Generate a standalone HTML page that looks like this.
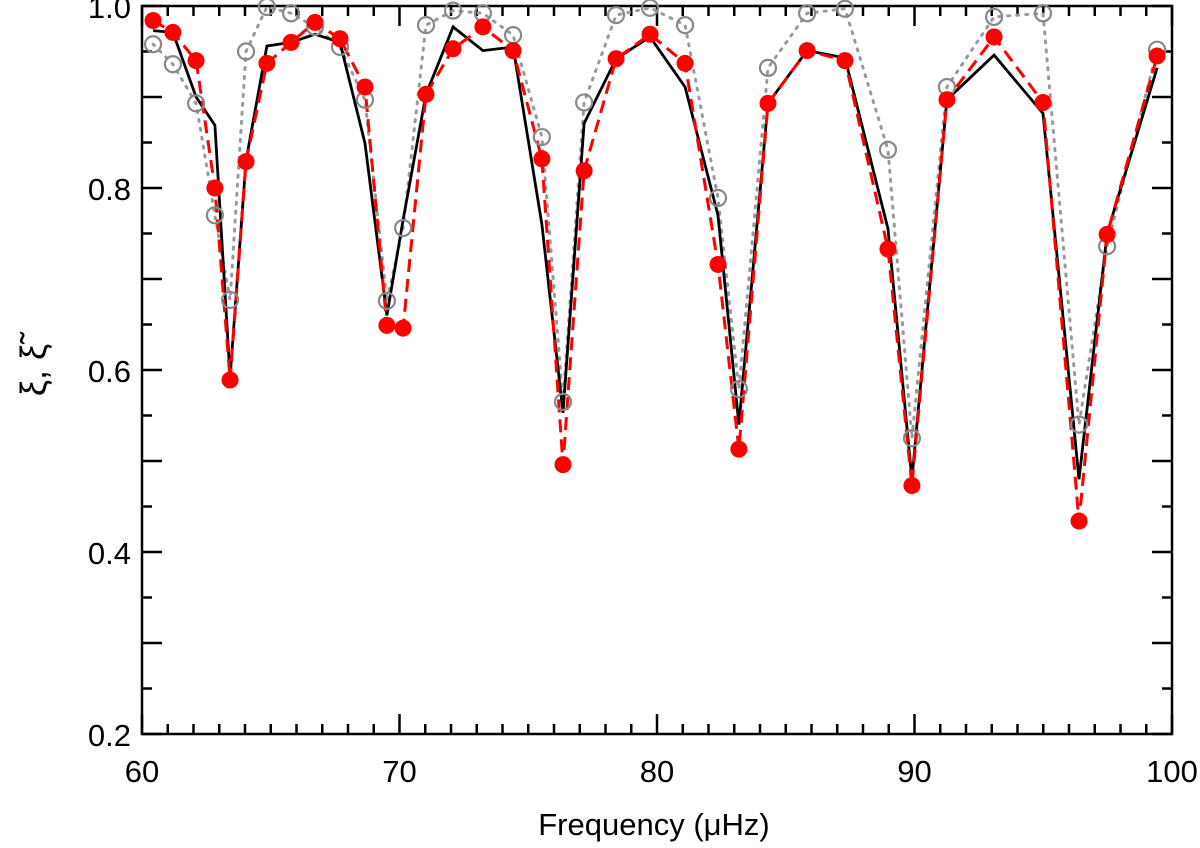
<!DOCTYPE html>
<html><head><meta charset="utf-8"><style>
html,body{margin:0;padding:0;background:#fff;}
svg text{font-family:"Liberation Sans","DejaVu Sans",sans-serif;}
</style></head><body>
<svg id="chart" width="1200" height="843" viewBox="0 0 1200 843" xmlns="http://www.w3.org/2000/svg">
<defs><clipPath id="plotclip"><rect x="142" y="6" width="1030" height="728"/></clipPath></defs>
<g id="axes"></g>
<g id="series" clip-path="url(#plotclip)"></g>
<g id="markers"></g>
<text x="654" y="835" text-anchor="middle" font-size="31" fill="#000">Frequency (μHz)</text>
<text transform="translate(46,370) rotate(-90)" text-anchor="middle" font-size="36" fill="#000">ξ, ξ̃</text>
</svg>
<script>
const freqs = [60.43,61.20,62.10,62.83,63.42,64.04,64.85,65.79,66.72,67.69,68.66,69.51,70.14,71.03,72.08,73.24,74.41,75.53,76.35,77.17,78.41,79.73,81.09,82.37,83.18,84.31,85.83,87.30,88.97,89.90,91.26,93.09,94.99,96.39,97.48,99.42];
const redValues = [0.984,0.971,0.940,0.800,0.589,0.829,0.937,0.960,0.982,0.964,0.911,0.649,0.646,0.903,0.953,0.977,0.951,0.832,0.496,0.819,0.942,0.969,0.937,0.716,0.513,0.893,0.951,0.940,0.733,0.473,0.897,0.966,0.894,0.434,0.749,0.945];
const blackValues = [0.973,0.971,0.900,0.869,0.592,0.830,0.956,0.960,0.969,0.960,0.849,0.660,0.765,0.903,0.977,0.951,0.955,0.760,0.553,0.871,0.942,0.966,0.911,0.770,0.540,0.893,0.951,0.943,0.755,0.480,0.897,0.946,0.882,0.480,0.750,0.932];
const greyValues = [0.958,0.936,0.893,0.770,0.677,0.950,0.999,0.992,0.977,0.955,0.897,0.676,0.756,0.979,0.995,0.992,0.968,0.856,0.565,0.894,0.990,0.998,0.979,0.789,0.579,0.932,0.992,0.997,0.842,0.525,0.911,0.988,0.992,0.540,0.736,0.952];
const xTicks = [60,70,80,90,100];
const yTicks = [0.2,0.4,0.6,0.8,1.0];

const X0=142,X1=1172,Y0=6,Y1=734;
const xs = f => X0 + (f-60)/40*(X1-X0);
const ys = v => Y0 + (1-v)/0.8*(Y1-Y0);
const NS='http://www.w3.org/2000/svg';
function mk(tag, attrs, parent){const e=document.createElementNS(NS,tag);for(const k in attrs)e.setAttribute(k,attrs[k]);parent.appendChild(e);return e;}
const axes=document.getElementById('axes'), series=document.getElementById('series'), markers=document.getElementById('markers');

const frame=mk('rect',{x:X0,y:Y0,width:X1-X0,height:Y1-Y0,fill:'none',stroke:'#000','stroke-width':2.5},axes);


for(let f=60;f<=100;f++){
  const maj=(f%10===0), L=maj?20:10, x=xs(f);
  const t1=mk('line',{x1:x,y1:Y1,x2:x,y2:Y1-L,stroke:'#000','stroke-width':2.5},axes);
  
  
  const t2=mk('line',{x1:x,y1:Y0,x2:x,y2:Y0+L,stroke:'#000','stroke-width':2.5},axes);
  
  
}
xTicks.forEach(f=>{
  const t=mk('text',{x:xs(f),y:Y1+48,'text-anchor':'middle','font-size':31,fill:'#000'},axes);
  t.textContent=String(f);
  
  
});
for(let i=0;i<=16;i++){
  const v=0.2+i*0.05, maj=(i%2===0), L=maj?20:10, y=ys(v);
  const t1=mk('line',{x1:X0,y1:y,x2:X0+L,y2:y,stroke:'#000','stroke-width':2.5},axes);
  
  
  const t2=mk('line',{x1:X1,y1:y,x2:X1-L,y2:y,stroke:'#000','stroke-width':2.5},axes);
  
  
}
yTicks.forEach(v=>{
  const t=mk('text',{x:X0-11,y:ys(v)+12,'text-anchor':'end','font-size':31,fill:'#000'},axes);
  t.textContent=v.toFixed(1);
  
  
});
function pts(vals){return freqs.map((f,i)=>xs(f).toFixed(1)+','+ys(vals[i]).toFixed(1)).join(' ');}
const gl=mk('polyline',{points:pts(greyValues),fill:'none',stroke:'#999','stroke-width':3,'stroke-dasharray':'2 7','stroke-linecap':'round'},series);


const bl=mk('polyline',{points:pts(blackValues),fill:'none',stroke:'#000','stroke-width':2.8},series);


const rl=mk('polyline',{points:pts(redValues),fill:'none',stroke:'#f00','stroke-width':3,'stroke-dasharray':'13 7'},series);


freqs.forEach((f,i)=>{
  const c=mk('circle',{cx:xs(f),cy:ys(greyValues[i]),r:8,fill:'none',stroke:'#888','stroke-width':2.2},markers);
  
  
});
freqs.forEach((f,i)=>{
  const c=mk('circle',{cx:xs(f),cy:ys(redValues[i]),r:8.5,fill:'#f00'},markers);
  
  
});
</script>
</body></html>
